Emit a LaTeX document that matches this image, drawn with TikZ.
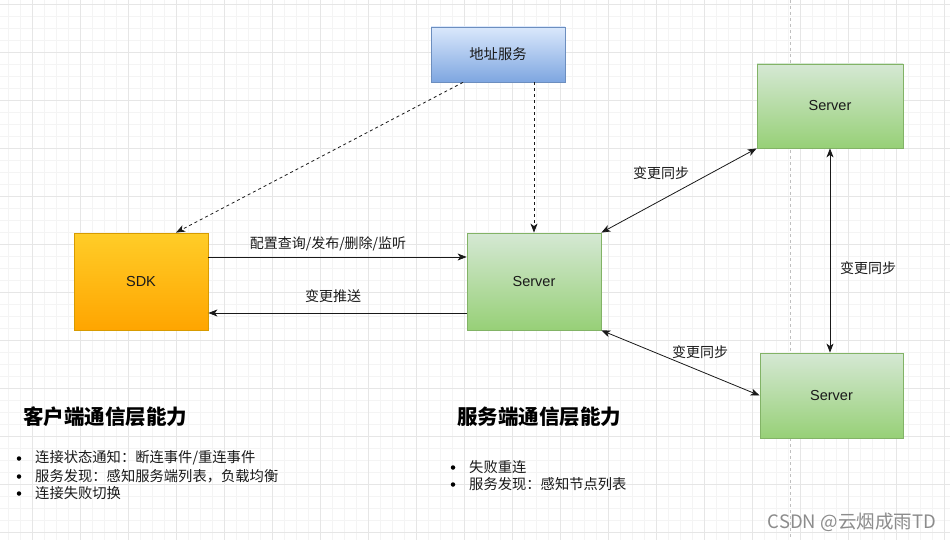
\documentclass[tikz,border=0pt]{standalone}
\usepackage{fontspec}
\setmainfont{Noto Sans CJK SC}
\newfontfamily\latinsans{Liberation Sans}
\usetikzlibrary{arrows.meta}
\definecolor{gridminor}{HTML}{F4F4F4}
\definecolor{gridmajor}{HTML}{E6E6E6}
\definecolor{greentop}{HTML}{D5E8D4}
\definecolor{greenbot}{HTML}{97D077}
\definecolor{greenline}{HTML}{82B366}
\definecolor{bluetop}{HTML}{DAE8FC}
\definecolor{bluebot}{HTML}{7EA6E0}
\definecolor{blueline}{HTML}{6C8EBF}
\definecolor{orangetop}{HTML}{FFCD28}
\definecolor{orangebot}{HTML}{FFA500}
\definecolor{orangeline}{HTML}{D79B00}
\definecolor{txt}{HTML}{1A1A1A}
\tikzset{
  box/.style={draw, line width=0.8pt, inner sep=0pt, font=\latinsans\fontsize{14.5}{16}\selectfont, text=txt},
  greenbox/.style={box, draw=greenline, top color=greentop, bottom color=greenbot},
  bluebox/.style={box, draw=blueline, top color=bluetop, bottom color=bluebot, font=\fontsize{14.3}{16}\selectfont},
  orangebox/.style={box, draw=orangeline, top color=orangetop, bottom color=orangebot},
  conn/.style={line width=0.8pt, draw=black!90, -{Stealth[length=9pt,width=7pt,inset=2.5pt]}},
  biconn/.style={conn, {Stealth[length=9pt,width=7pt,inset=2.5pt]}-{Stealth[length=9pt,width=7pt,inset=2.5pt]}},
  dashconn/.style={conn, dashed, dash pattern=on 3pt off 3pt},
  lbl/.style={font=\fontsize{14}{16}\selectfont, text=txt, inner sep=1pt},
  heading/.style={font=\fontsize{20.5}{22}\selectfont\bfseries, text=black, anchor=west, inner sep=0pt},
  item/.style={font=\fontsize{14.3}{16}\selectfont, text=txt, anchor=west, inner sep=0pt},
  dot/.style={circle, fill=black, inner sep=0pt, minimum size=4.5pt}
}
\begin{document}
\begin{tikzpicture}[x=1pt,y=-1pt]
\useasboundingbox (0,0) rectangle (950,540);
\fill[white] (0,0) rectangle (950,540);
% grid
\foreach \gx in {-4,8,...,950} \draw[gridminor, line width=0.6pt] (\gx,0) -- (\gx,540);
\foreach \gy in {4,16,...,540} \draw[gridminor, line width=0.6pt] (0,\gy) -- (950,\gy);
\foreach \gx in {32,80,...,950} \draw[gridmajor, line width=0.7pt] (\gx,0) -- (\gx,540);
\foreach \gy in {4,52,...,540} \draw[gridmajor, line width=0.7pt] (0,\gy) -- (950,\gy);
\draw[black!25, line width=0.6pt, dash pattern=on 3pt off 3pt] (790,0) -- (790,540);

% nodes
\node[bluebox, minimum width=134pt, minimum height=55pt] (addr) at (498,54.5) {地址服务};
\node[orangebox, minimum width=134pt, minimum height=97pt] (sdk) at (141,281.5) {SDK};
\node[greenbox, minimum width=134pt, minimum height=97pt] (srv) at (534,281.5) {Server};
\node[greenbox, minimum width=146pt, minimum height=84pt] (srv1) at (830,106) {Server};
\node[greenbox, minimum width=143pt, minimum height=85pt] (srv2) at (831.5,395.5) {Server};

% connectors
\draw[dashconn] ([xshift=-35pt]addr.south) -- ([xshift=35pt]sdk.north);
\draw[dashconn] (srv.north |- addr.south) -- (srv.north);
\draw[conn] ([yshift=24.5pt]sdk.east) -- ([yshift=24.5pt]srv.west);
\draw[conn] ([yshift=-31.5pt]srv.west) -- ([yshift=-31.5pt]sdk.east);
\draw[biconn] (srv.north east) -- (srv1.south west);
\draw[biconn] (srv.south east) -- (srv2.west);
\draw[biconn] (srv1.south) -- (srv1.south |- srv2.north);

% labels
\node[lbl] (l1) at (328,244) {配置查询/发布/删除/监听};
\node[lbl] (l2) at (333,296) {变更推送};
\node[lbl] (l3) at (661,173) {变更同步};
\node[lbl] (l4) at (700,352) {变更同步};
\node[lbl] (l5) at (868,268) {变更同步};

% text blocks
\node[heading] (h1) at (23,417) {客户端通信层能力};
\node[dot] (d1) at (19,458.5) {};
\node[item] (t1) at (35,458) {连接状态通知：断连事件/重连事件};
\node[dot] (d2) at (19,476.5) {};
\node[item] (t2) at (35,476) {服务发现：感知服务端列表，负载均衡};
\node[dot] (d3) at (19,493.5) {};
\node[item] (t3) at (35,493) {连接失败切换};

\node[heading] (h2) at (457,417) {服务端通信层能力};
\node[dot] (d4) at (453,467.5) {};
\node[item] (t4) at (469,467) {失败重连};
\node[dot] (d5) at (453,484.5) {};
\node[item] (t5) at (469,484) {服务发现：感知节点列表};

\node[font=\fontsize{18.5}{20}\selectfont, text=black!45, anchor=east, inner sep=0pt] (wm) at (936,522) {CSDN @云烟成雨TD};
\end{tikzpicture}
\end{document}
